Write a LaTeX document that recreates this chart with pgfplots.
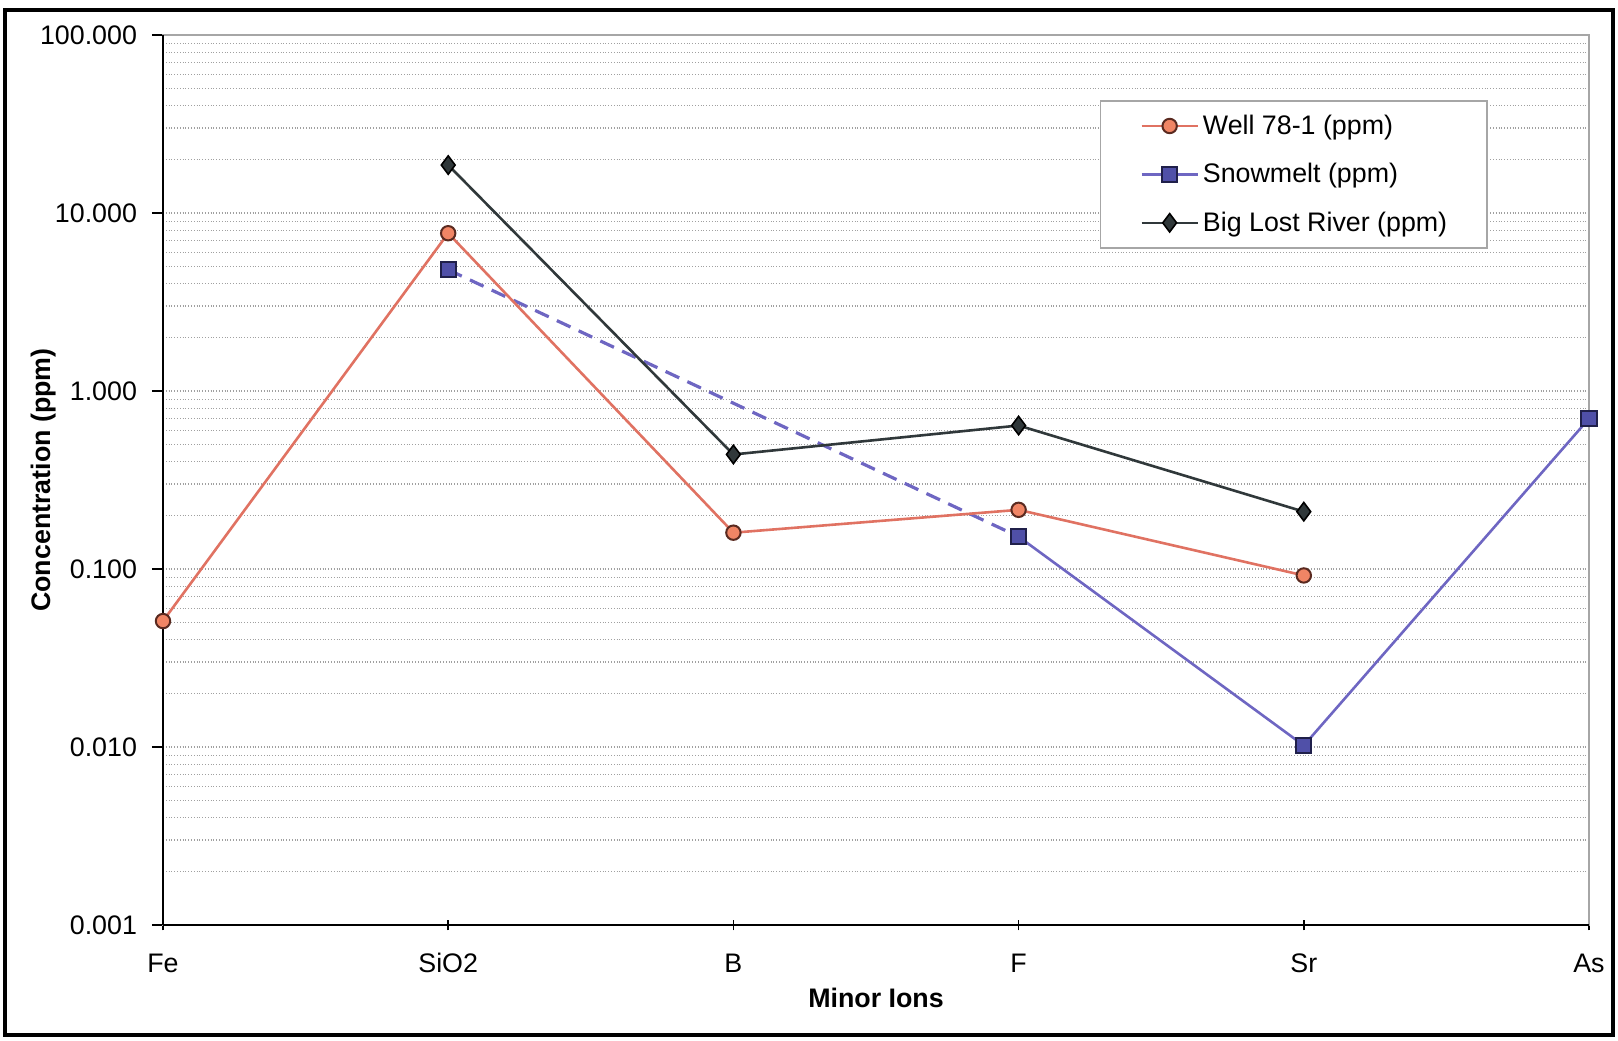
\documentclass[border=0pt]{standalone}
\usepackage{pgfplots}
\pgfplotsset{compat=1.18}
\usepackage{fontspec}
\setmainfont{Liberation Sans}
\definecolor{wellline}{HTML}{E07262}
\definecolor{wellfill}{HTML}{F08565}
\definecolor{welldraw}{HTML}{5A2A20}
\definecolor{snowline}{HTML}{6E66C2}
\definecolor{snowfill}{HTML}{5050A8}
\definecolor{snowdraw}{HTML}{20204A}
\definecolor{bigline}{HTML}{30383A}
\definecolor{gridc}{HTML}{A0A0A0}
\newcommand{\lf}{\fontsize{13.4}{16}\selectfont}
\begin{document}
\begin{tikzpicture}
\useasboundingbox (-81.5pt,-57.5pt) rectangle (727.5pt,462.5pt);
\draw[line width=2.3pt, black] (-79pt,-55pt) rectangle (725pt,457.5pt);
\begin{axis}[
  at={(0,0)}, anchor=south west,
  scale only axis, width=713pt, height=445pt,
  ymode=log, ymin=0.001, ymax=100,
  xmin=0, xmax=5,
  xtick={0,1,2,3,4,5},
  xticklabels={Fe,SiO2,B,F,Sr,As},
  ytick={0.001,0.01,0.1,1,10,100},
  yticklabels={0.001,0.010,0.100,1.000,10.000,100.000},
  xtick pos=bottom, ytick pos=left,
  ticklabel style={font=\lf},
  xticklabel style={yshift=-8pt},
  yticklabel style={xshift=-4pt},
  major tick length=5.5pt, minor tick length=0pt,
  xtick align=center, ytick align=outside,
  tick style={black, line width=0.8pt},
  ymajorgrids, yminorgrids,
  major grid style={gridc, densely dotted, line width=0.6pt},
  minor grid style={gridc, densely dotted, line width=0.6pt},
  axis line style={gray!70, line width=0.8pt},
  xlabel={\bfseries Minor Ions},
  ylabel={\bfseries Concentration (ppm)},
  label style={font=\lf},
  xlabel style={at={(axis description cs:0.5,-0.082)}, anchor=center},
  ylabel style={at={(axis description cs:-0.084,0.5)}, anchor=center},
  clip=false,
  unbounded coords=jump,
  legend cell align=left,
  legend style={at={(0.929,0.927)}, anchor=north east, draw=gray!70, line width=0.8pt, fill=white,
    font=\lf, inner xsep=20pt, inner ysep=5pt, row sep=9pt},
  legend image code/.code={
    \draw[#1, mark repeat=2, mark phase=2] plot coordinates {(0cm,0cm) (14pt,0cm) (28pt,0cm)};
  },
]
\draw[black, line width=1.4pt] (rel axis cs:0,0) -- (rel axis cs:0,1);
\draw[black, line width=1.4pt] (rel axis cs:0,0) -- (rel axis cs:1,0);
\addplot[snowline, line width=1.6pt, dash pattern=on 7.5pt off 4.5pt, forget plot]
  coordinates {(1,4.8) (3,0.152)};
\addplot[wellline, solid, line width=1.3pt, mark=*, mark size=3.6pt,
  mark options={solid, fill=wellfill, draw=welldraw, line width=1pt}]
  coordinates {(0,0.051) (1,7.7) (2,0.16) (3,0.215) (4,0.092)};
\addlegendentry{\makebox[120pt][l]{Well 78-1 (ppm)}}
\addplot[snowline, solid, line width=1.3pt, mark=square*, mark size=3.8pt,
  mark options={solid, fill=snowfill, draw=snowdraw, line width=1pt}]
  coordinates {(1,4.8) (2,nan) (3,0.152) (4,0.0102) (5,0.70)};
\addlegendentry{\makebox[120pt][l]{Snowmelt (ppm)}}
\addplot[bigline, solid, line width=1.3pt, mark=diamond*, mark size=4.6pt,
  mark options={solid, fill=bigline, draw=black, line width=0.8pt}]
  coordinates {(1,18.6) (2,0.44) (3,0.64) (4,0.21)};
\addlegendentry{\makebox[120pt][l]{Big Lost River (ppm)}}
\end{axis}
\end{tikzpicture}
\end{document}
